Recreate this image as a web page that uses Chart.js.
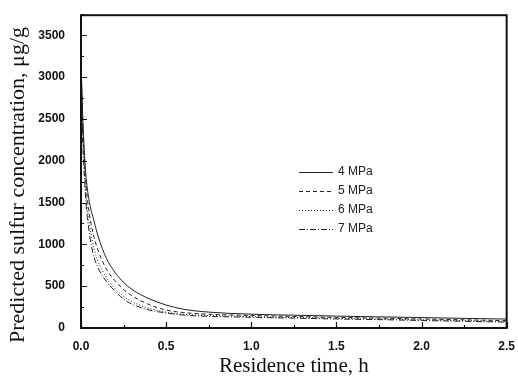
<!DOCTYPE html>
<html>
<head>
<meta charset="utf-8">
<script src="https://cdn.jsdelivr.net/npm/chart.js@4/dist/chart.umd.min.js"></script>
<style>
  html, body { margin: 0; padding: 0; background: #fff; }
  #wrap { width: 518px; height: 379px; }
</style>
</head>
<body>
<div id="wrap"><canvas id="chart" width="518" height="379"></canvas></div>
<script>
// residence time, h
const times = [0, 0.01, 0.02, 0.03, 0.05, 0.075, 0.1, 0.15, 0.2, 0.25, 0.3, 0.4, 0.5, 0.6, 0.75, 1.0, 1.25, 1.5, 1.75, 2.0, 2.25, 2.5];
// predicted sulfur, ug/g
const mpa4 = [3200, 2550, 2100, 1800, 1500, 1290, 1100, 830, 665, 545, 460, 350, 275, 225, 190, 165, 153, 142, 133, 125, 115, 107];
const mpa5 = [3200, 2450, 2000, 1700, 1350, 1100, 930, 700, 565, 460, 385, 280, 215, 185, 165, 150, 138, 127, 118, 108, 98, 88];
const mpa6 = [3200, 2350, 1900, 1580, 1230, 960, 800, 600, 470, 380, 315, 235, 190, 165, 150, 137, 126, 116, 107, 98, 88, 78];
const mpa7 = [3200, 2250, 1800, 1480, 1120, 860, 720, 555, 440, 345, 285, 215, 180, 155, 140, 128, 118, 108, 100, 90, 80, 70];
const seriesNames = ['4 MPa', '5 MPa', '6 MPa', '7 MPa'];
const xTicks = [0, 0.5, 1.0, 1.5, 2.0, 2.5];
const yTicks = [0, 500, 1000, 1500, 2000, 2500, 3000, 3500];
const yTitle = 'Predicted sulfur concentration, μg/g';

const dashes = [[], [4, 3], [1, 2], [6, 2, 1, 2]];

function pts(vals) {
    return vals.map((v, i) => ({ x: times[i], y: v }));
}

const datasets = [mpa4, mpa5, mpa6, mpa7].map((vals, i) => ({
    label: seriesNames[i],
    data: pts(vals),
    borderColor: '#222',
    borderWidth: 1,
    borderDash: dashes[i],
    pointRadius: 0,
    cubicInterpolationMode: 'monotone',
    fill: false
}));

// frame, inward ticks, y title and legend drawn by hand
const framePlugin = {
    id: 'frame',
    afterDraw(chart) {
        const ctx = chart.ctx;
        const a = chart.chartArea;
        const xs = chart.scales.x, ys = chart.scales.y;
        ctx.save();
        ctx.strokeStyle = '#111';
        ctx.lineWidth = 2;
        ctx.strokeRect(a.left, a.top, a.right - a.left, a.bottom - a.top);

        ctx.lineWidth = 1.2;
        ctx.beginPath();
        for (let v = 0; v <= 2.5001; v += 0.25) {
            const px = Math.round(xs.getPixelForValue(v)) + 0.5;
            const len = (Math.round(v * 4) % 2 === 0) ? 6 : 3;
            ctx.moveTo(px, a.bottom);
            ctx.lineTo(px, a.bottom - len);
        }
        for (let v = 0; v <= 3750; v += 250) {
            const py = Math.round(ys.getPixelForValue(v)) + 0.5;
            const len = (v % 500 === 0) ? 6 : 3;
            ctx.moveTo(a.left, py);
            ctx.lineTo(a.left + len, py);
        }
        ctx.stroke();

        // y title, sits a bit lower than the plot centre
        ctx.save();
        ctx.translate(18, 185);
        ctx.rotate(-Math.PI / 2);
        ctx.font = '22px "Liberation Serif", "Times New Roman", serif';
        ctx.fillStyle = '#111';
        ctx.textAlign = 'center';
        ctx.textBaseline = 'middle';
        ctx.fillText(yTitle, 0, 0);
        ctx.restore();

        // legend
        ctx.font = '12px "Liberation Sans", Arial, sans-serif';
        ctx.textBaseline = 'middle';
        ctx.fillStyle = '#222';
        ctx.lineWidth = 1;
        chart.data.datasets.forEach((ds, i) => {
            const y = 172 + i * 19;
            ctx.beginPath();
            ctx.setLineDash(ds.borderDash);
            ctx.strokeStyle = '#222';
            ctx.moveTo(299, y + 0.5);
            ctx.lineTo(333, y + 0.5);
            ctx.stroke();
            ctx.setLineDash([]);
            ctx.fillText(ds.label, 338, y);
        });
        ctx.restore();
    }
};

new Chart(document.getElementById('chart'), {
    type: 'line',
    data: { datasets: datasets },
    options: {
        responsive: false,
        animation: false,
        layout: { padding: { left: 0, right: 8, top: 15, bottom: 0 } },
        plugins: { legend: { display: false }, tooltip: { enabled: false } },
        scales: {
            x: {
                type: 'linear',
                min: 0,
                max: 2.5,
                grid: { display: false },
                border: { display: false },
                afterBuildTicks: s => { s.ticks = xTicks.map(v => ({ value: v })); },
                afterFit: s => { s.height = 51; },
                ticks: {
                    color: '#111',
                    padding: 3,
                    maxRotation: 0,
                    font: { family: '"Liberation Sans", Arial, sans-serif', size: 12, weight: 'bold' },
                    callback: v => v.toFixed(1)
                },
                title: {
                    display: true,
                    text: 'Residence time, h',
                    color: '#111',
                    padding: { top: 4, bottom: 0 },
                    font: { family: '"Liberation Serif", "Times New Roman", serif', size: 21 }
                }
            },
            y: {
                min: 0,
                max: 3740,
                grid: { display: false },
                border: { display: false },
                afterBuildTicks: s => { s.ticks = yTicks.map(v => ({ value: v })); },
                afterFit: s => { s.width = 81; },
                ticks: {
                    color: '#111',
                    padding: 8,
                    font: { family: '"Liberation Sans", Arial, sans-serif', size: 12, weight: 'bold' },
                    callback: v => String(v)
                }
            }
        }
    },
    plugins: [framePlugin]
});
</script>
</body>
</html>
